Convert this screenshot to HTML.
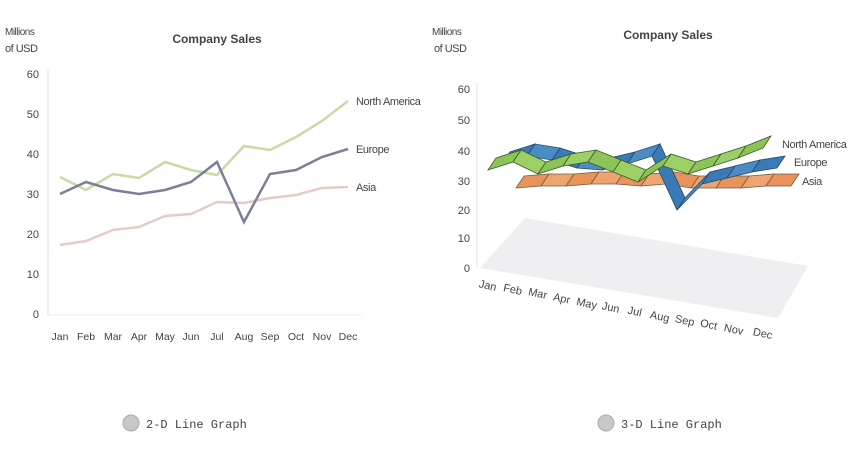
<!DOCTYPE html>
<html><head><style>
body{margin:0;background:#fff;width:854px;height:445px;overflow:hidden}
svg text{font-family:"Liberation Sans",sans-serif;fill:#444}
</style></head><body>
<svg id="s" width="854" height="445" viewBox="0 0 854 445">
<text x="5" y="35" font-size="10" letter-spacing="-0.5">Millions</text>
<text x="5" y="52" font-size="11" letter-spacing="-0.5">of USD</text>
<text x="217" y="43" font-size="12" font-weight="bold" text-anchor="middle">Company Sales</text>
<g font-size="11" text-anchor="end">
<text x="39" y="78">60</text><text x="39" y="118">50</text><text x="39" y="158">40</text>
<text x="39" y="198">30</text><text x="39" y="238">20</text><text x="39" y="278">10</text><text x="39" y="318">0</text>
</g>
<line x1="48" y1="70" x2="48" y2="315" stroke="#ddd"/>
<line x1="48" y1="315" x2="362" y2="315" stroke="#eee"/>
<g font-size="10.5" text-anchor="middle">
<text x="60" y="340">Jan</text><text x="86" y="340">Feb</text><text x="113" y="340">Mar</text><text x="139" y="340">Apr</text><text x="165" y="340">May</text><text x="191" y="340">Jun</text><text x="217" y="340">Jul</text><text x="244" y="340">Aug</text><text x="270" y="340">Sep</text><text x="296" y="340">Oct</text><text x="322" y="340">Nov</text><text x="348" y="340">Dec</text>
</g>
<polyline fill="none" stroke="#e6cbc6" stroke-width="2.5" points="60,245 86,241 113,230 139,227 165,216 191,214 217,202 244,203 270,198 296,195 322,188 348,187"/>
<polyline fill="none" stroke="#c7dba3" stroke-width="2.5" points="60,177 86,190 113,174 139,178 165,162 191,170 217,175 244,146 270,150 296,137 322,121 348,101"/>
<polyline fill="none" stroke="#7b8096" stroke-width="2.5" points="60,194 86,182 113,190 139,194 165,190 191,182 217,162 244,222 270,174 296,170 322,157 348,149"/>
<text x="356" y="105" font-size="11" letter-spacing="-0.4">North America</text>
<text x="356" y="153" font-size="11" letter-spacing="-0.4">Europe</text>
<text x="356" y="191" font-size="11" letter-spacing="-0.4">Asia</text>

<text x="432" y="35" font-size="10" letter-spacing="-0.5">Millions</text>
<text x="434" y="52" font-size="11" letter-spacing="-0.5">of USD</text>
<text x="668" y="39" font-size="12" font-weight="bold" text-anchor="middle">Company Sales</text>
<g font-size="11" text-anchor="end">
<text x="470" y="93">60</text><text x="470" y="124">50</text><text x="470" y="155">40</text>
<text x="470" y="185">30</text><text x="470" y="214">20</text><text x="470" y="242">10</text><text x="470" y="272">0</text>
</g>
<line x1="477" y1="82" x2="477" y2="268" stroke="#e4e4e4"/>
<polygon points="480,268 525,218 808,266 778,318" fill="#efeff2"/>
<g font-size="11" text-anchor="middle">
<text x="487" y="289" transform="rotate(12 487 289)">Jan</text>
<text x="512" y="293" transform="rotate(12 512 293)">Feb</text>
<text x="537" y="297" transform="rotate(12 537 297)">Mar</text>
<text x="561" y="302" transform="rotate(12 561 302)">Apr</text>
<text x="586" y="307" transform="rotate(12 586 307)">May</text>
<text x="610" y="311" transform="rotate(12 610 311)">Jun</text>
<text x="634" y="315" transform="rotate(12 634 315)">Jul</text>
<text x="659" y="320" transform="rotate(12 659 320)">Aug</text>
<text x="684" y="324" transform="rotate(12 684 324)">Sep</text>
<text x="708" y="328" transform="rotate(12 708 328)">Oct</text>
<text x="733" y="333" transform="rotate(12 733 333)">Nov</text>
<text x="762" y="337" transform="rotate(12 762 337)">Dec</text>
</g>
<g id="rib"></g>
<text x="782" y="148" font-size="11" letter-spacing="-0.4">North America</text>
<text x="794" y="166" font-size="11" letter-spacing="-0.4">Europe</text>
<text x="802" y="185" font-size="11" letter-spacing="-0.4">Asia</text>

<circle cx="131" cy="423" r="8" fill="#c8c8c8" stroke="#aaa"/>
<text x="146" y="428" font-size="12" style="font-family:'Liberation Mono',monospace" fill="#333">2-D Line Graph</text>
<circle cx="606" cy="423" r="8" fill="#c8c8c8" stroke="#aaa"/>
<text x="621" y="428" font-size="12" style="font-family:'Liberation Mono',monospace" fill="#333">3-D Line Graph</text>
</svg>
<script>
var g=document.getElementById('rib');
function rib(x0,ys,dx,dy,c1,c2,st){
 for(var i=0;i<ys.length-1;i++){
  var xa=x0+25*i,xb=x0+25*(i+1),ya=ys[i],yb=ys[i+1];
  var p=document.createElementNS('http://www.w3.org/2000/svg','polygon');
  p.setAttribute('points',[xa,ya,xb,yb,xb+dx,yb+dy,xa+dx,ya+dy].join(' '));
  p.setAttribute('fill',i%2?c2:c1);p.setAttribute('stroke',st);p.setAttribute('stroke-width','0.8');
  g.appendChild(p);
 }
}
rib(516,[188,186,186,184,184,186,184,188,188,188,186,186],8,-12,'#e8935a','#eea46f','#7a5a40');
rib(502,[164,156,160,168,170,164,156,210,184,178,172,168],8,-12,'#3a7ab5','#4a8cc4','#27496a');
rib(488,[170,162,174,166,162,172,182,166,174,166,158,148],8,-12,'#8cc458','#9ccf66','#3d5a2a');
</script>
</body></html>
